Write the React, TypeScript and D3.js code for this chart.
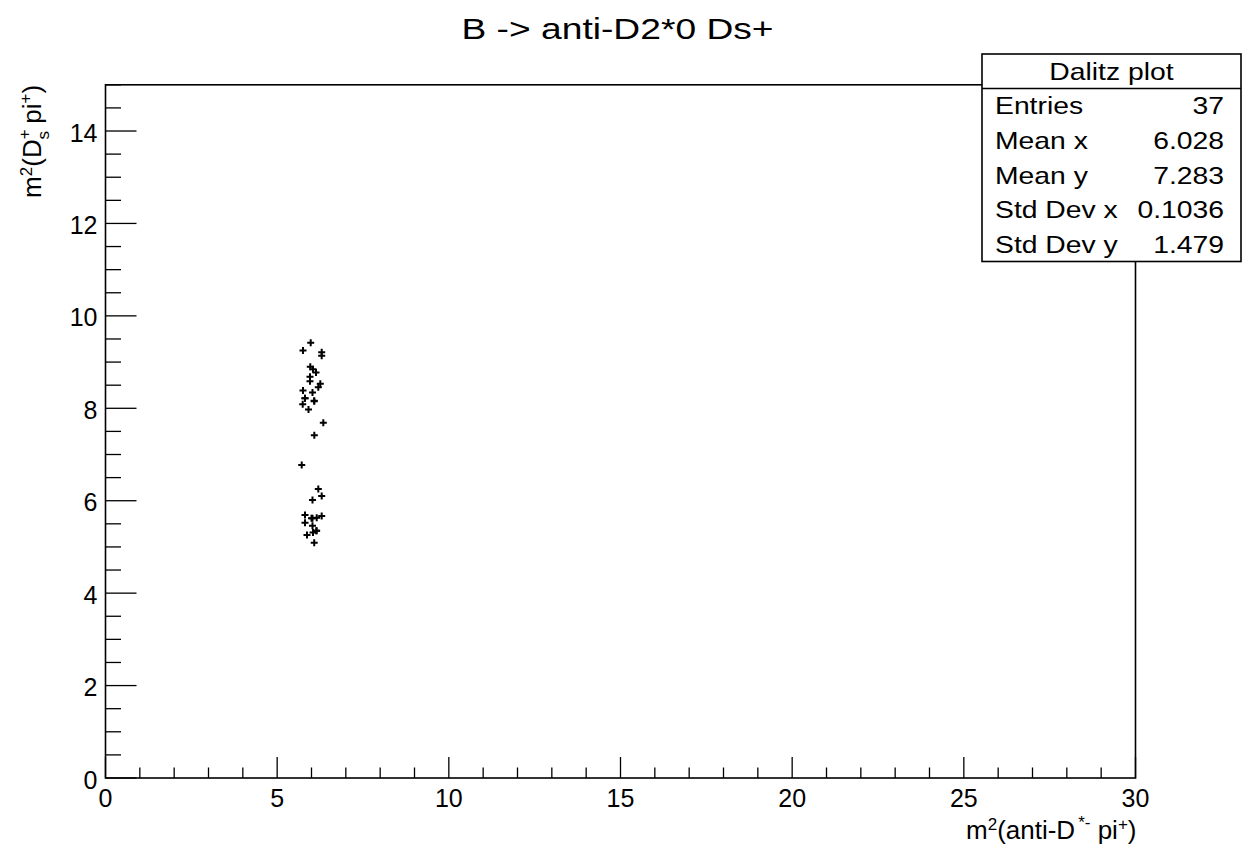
import React from 'react';
import * as d3 from 'd3';

const xValues = [
  5.977, 5.752, 6.297, 6.297, 5.965, 6.044, 6.131, 5.956, 5.956, 6.256,
  6.198, 5.752, 6.029, 5.811, 6.079, 5.744, 5.913, 6.344, 6.082, 5.715,
  6.198, 6.297, 6.029, 5.811, 5.811, 6.029, 6.152, 6.297, 6.029, 5.869,
  6.044, 6.140, 6.079, 6.000, 6.150, 5.810, 6.080,
];
const yValues = [
  9.418, 9.251, 9.214, 9.136, 8.901, 8.844, 8.775, 8.684, 8.585, 8.531,
  8.457, 8.386, 8.342, 8.217, 8.163, 8.089, 7.975, 7.689, 7.416, 6.773,
  6.254, 6.103, 6.016, 5.691, 5.525, 5.620, 5.633, 5.670, 5.458, 5.259,
  5.313, 5.352, 5.092, 5.620, 5.350, 8.220, 8.150,
];
const xTickValues = [0, 5, 10, 15, 20, 25, 30];
const yTickValues = [0, 2, 4, 6, 8, 10, 12, 14];
const statLabels = ['Entries', 'Mean x', 'Mean y', 'Std Dev x', 'Std Dev y'];
const statValues = ['37', '6.028', '7.283', '0.1036', '1.479'];
const chartTitle = 'B -> anti-D2*0 Ds+';
const statTitle = 'Dalitz plot';

const FONT = '"Liberation Sans", Arial, Helvetica, sans-serif';

export default function App() {
  const W = 1250;
  const H = 848;
  const left = 105.5, right = 1135.5, top = 84.8, bottom = 778;
  const x = d3.scaleLinear().domain([0, 30]).range([left, right]);
  const y = d3.scaleLinear().domain([0, 15]).range([bottom, top]);
  const xMinor = d3.range(0, 30.001, 1);
  const yMinor = d3.range(0, 15.001, 0.5);
  const points = xValues.map((v, i) => [v, yValues[i]]);
  const arm = 3.5;

  const box = { x0: 982, x1: 1241, y0: 54, sep: 88.5, y1: 261.5 };
  const rowH = (box.y1 - box.sep) / statLabels.length;
  const sx = 1.18;

  return (
    <div style={{ position: 'absolute', left: 0, top: 0 }}>
      <svg width={W} height={H} viewBox={`0 0 ${W} ${H}`} style={{ display: 'block', background: '#fff' }}>
        <rect x={0} y={0} width={W} height={H} fill="#fff" />
        {/* title */}
        <text transform={`translate(617.5,38.5) scale(1.24,1)`} textAnchor="middle" fontFamily={FONT} fontSize={30} fill="#000">{chartTitle}</text>

        {/* frame */}
        <rect x={left} y={top} width={right - left} height={bottom - top} fill="none" stroke="#000" strokeWidth={1.6} />

        {/* x ticks */}
        {xMinor.map((v) => {
          const major = v % 5 === 0;
          return <line key={'xm' + v} x1={x(v)} x2={x(v)} y1={bottom} y2={bottom - (major ? 21 : 10.5)} stroke="#000" strokeWidth={1.3} />;
        })}
        {xTickValues.map((v) => (
          <text key={'xt' + v} x={x(v)} y={806.5} textAnchor="middle" fontFamily={FONT} fontSize={25} fill="#000">{v}</text>
        ))}

        {/* y ticks */}
        {yMinor.map((v) => {
          const major = v % 2 === 0;
          return <line key={'ym' + v} x1={left} x2={left + (major ? 31 : 15.5)} y1={y(v)} y2={y(v)} stroke="#000" strokeWidth={1.3} />;
        })}
        {yTickValues.map((v) => (
          <text key={'yt' + v} x={97.5} y={y(v) + 10.5} textAnchor="end" fontFamily={FONT} fontSize={25} fill="#000">{v}</text>
        ))}

        {/* axis titles */}
        <text x={right + 1} y={839} textAnchor="end" fontFamily={FONT} fontSize={26} fill="#000">
          m<tspan fontSize={17} dy={-9}>2</tspan>
          <tspan dy={9}>(anti-D</tspan>
          <tspan fontSize={17} dy={-11} dx={3}>*-</tspan>
          <tspan dy={11}> pi</tspan>
          <tspan fontSize={17} dy={-9}>+</tspan>
          <tspan dy={9}>)</tspan>
        </text>
        <text transform={`translate(41,${top}) rotate(-90)`} textAnchor="end" fontFamily={FONT} fontSize={26} fill="#000">
          m<tspan fontSize={17} dy={-9}>2</tspan>
          <tspan dy={9}>(D</tspan>
          <tspan fontSize={17} dy={-11}>+</tspan>
          <tspan fontSize={17} dy={19} dx={-10}>s</tspan>
          <tspan dy={-8}> pi</tspan>
          <tspan fontSize={17} dy={-10}>+</tspan>
          <tspan dy={10}>)</tspan>
        </text>

        {/* markers */}
        {points.map(([px, py], i) => {
          const cx = x(px), cy = y(py);
          return (
            <path key={'p' + i} d={`M${cx - arm},${cy}H${cx + arm}M${cx},${cy - arm}V${cy + arm}`} stroke="#000" strokeWidth={2} fill="none" />
          );
        })}

        {/* stats box */}
        <rect x={box.x0} y={box.y0} width={box.x1 - box.x0} height={box.y1 - box.y0} fill="#fff" stroke="#000" strokeWidth={1.6} />
        <line x1={box.x0} x2={box.x1} y1={box.sep} y2={box.sep} stroke="#000" strokeWidth={1.6} />
        <text transform={`translate(${(box.x0 + box.x1) / 2},79.5) scale(${sx},1)`} textAnchor="middle" fontFamily={FONT} fontSize={24} fill="#000">{statTitle}</text>
        {statLabels.map((l, i) => {
          const by = box.sep + rowH * (i + 0.5) + 8.5;
          return (
            <g key={'s' + i}>
              <text transform={`translate(995,${by}) scale(${sx},1)`} fontFamily={FONT} fontSize={24} fill="#000">{l}</text>
              <text transform={`translate(1224,${by}) scale(${sx},1)`} textAnchor="end" fontFamily={FONT} fontSize={24} fill="#000">{statValues[i]}</text>
            </g>
          );
        })}
      </svg>
    </div>
  );
}
